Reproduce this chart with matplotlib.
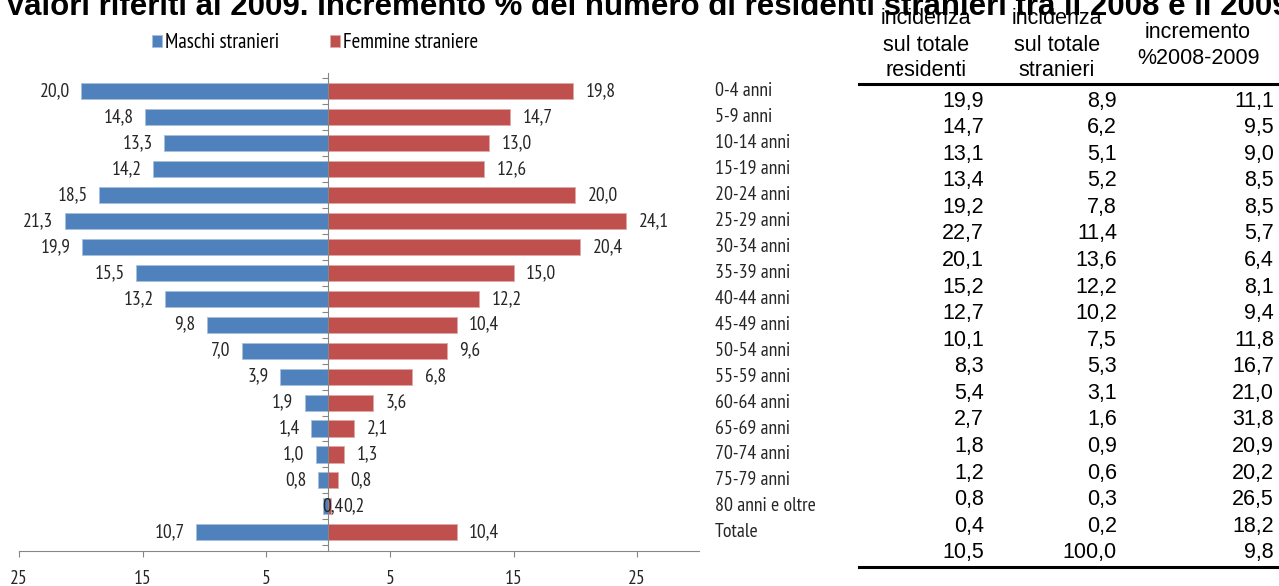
import numpy as np
import matplotlib
matplotlib.use("Agg")
from matplotlib import pyplot as plt
from matplotlib.lines import Line2D

# data
categories = ["0-4 anni", "5-9 anni", "10-14 anni", "15-19 anni", "20-24 anni",
              "25-29 anni", "30-34 anni", "35-39 anni", "40-44 anni", "45-49 anni",
              "50-54 anni", "55-59 anni", "60-64 anni", "65-69 anni", "70-74 anni",
              "75-79 anni", "80 anni e oltre", "Totale"]
maschi = [20.0, 14.8, 13.3, 14.2, 18.5, 21.3, 19.9, 15.5, 13.2, 9.8,
          7.0, 3.9, 1.9, 1.4, 1.0, 0.8, 0.4, 10.7]
femmine = [19.8, 14.7, 13.0, 12.6, 20.0, 24.1, 20.4, 15.0, 12.2, 10.4,
           9.6, 6.8, 3.6, 2.1, 1.3, 0.8, 0.2, 10.4]

inc_residenti = [19.9, 14.7, 13.1, 13.4, 19.2, 22.7, 20.1, 15.2, 12.7, 10.1,
                 8.3, 5.4, 2.7, 1.8, 1.2, 0.8, 0.4, 10.5]
inc_stranieri = [8.9, 6.2, 5.1, 5.2, 7.8, 11.4, 13.6, 12.2, 10.2, 7.5,
                 5.3, 3.1, 1.6, 0.9, 0.6, 0.3, 0.2, 100.0]
incremento = [11.1, 9.5, 9.0, 8.5, 8.5, 5.7, 6.4, 8.1, 9.4, 11.8,
              16.7, 21.0, 31.8, 20.9, 20.2, 26.5, 18.2, 9.8]

xticks = [-25, -15, -5, 5, 15, 25]
title = ("Valori riferiti al 2009. Incremento % del numero di residenti "
         "stranieri tra il 2008 e il 2009")

BLUE = "#4F81BD"
RED = "#C0504D"
GREY = "#868686"
TXT = "#262626"
ARIAL = ["Liberation Sans", "DejaVu Sans"]
NARROW = ["PT Sans Narrow", "Liberation Sans", "DejaVu Sans"]
NSIZE = 14


def fmt(v):
    return f"{v:.1f}".replace(".", ",")


fig = plt.figure(figsize=(12.79, 5.86), dpi=100)
W, H = 1279, 586

# title (cut at the top like in the source)
fig.text(5 / W, 1 - 15 / H, title, fontsize=22.5, fontweight="bold",
         family=ARIAL, ha="left", va="baseline")

# pyramid
ax = fig.add_axes([19 / W, 1 - 551 / H, 680 / W, 478 / H])
y = np.arange(len(categories))
hb = ax.barh(y, [-m for m in maschi], height=0.62, color=BLUE,
             edgecolor="#A7BFDE", linewidth=0.6, label="Maschi stranieri")
hr = ax.barh(y, femmine, height=0.62, color=RED,
             edgecolor="#DFA8A6", linewidth=0.6, label="Femmine straniere")
ax.set_xlim(-25, 30)
ax.set_ylim(17.72, -0.7)

for i, (m, f) in enumerate(zip(maschi, femmine)):
    if m < 0.5:
        # tiny bar: label sits over the axis like in the source
        ax.annotate(fmt(m), (-m, i), xytext=(-1, 0), textcoords="offset points",
                    ha="left", va="center", fontsize=NSIZE, family=NARROW, color=TXT)
    else:
        ax.annotate(fmt(m), (-m, i), xytext=(-8, 0), textcoords="offset points",
                    ha="right", va="center", fontsize=NSIZE, family=NARROW, color=TXT)
    ax.annotate(fmt(f), (f, i), xytext=(9, 0), textcoords="offset points",
                ha="left", va="center", fontsize=NSIZE, family=NARROW, color=TXT)

for i, c in enumerate(categories):
    ax.text(1.0235, i, c, transform=ax.get_yaxis_transform(), ha="left",
            va="center", fontsize=14.3, family=NARROW, color=TXT)

for s in ["top", "right"]:
    ax.spines[s].set_visible(False)
ax.spines["left"].set_position(("data", 0))
ax.spines["left"].set_color(GREY)
ax.spines["bottom"].set_color(GREY)
ax.set_yticks(np.arange(-0.5, len(categories), 1))
ax.set_yticklabels([])
ax.tick_params(axis="y", length=4, color=GREY, direction="out")
ax.set_xticks(xticks)
ax.set_xticklabels([str(abs(t)) for t in xticks], family=NARROW, fontsize=NSIZE,
                   color=TXT)
ax.tick_params(axis="x", length=4, color=GREY, pad=10)

fig.legend(handles=[hb, hr], loc="center", bbox_to_anchor=(315 / W, 1 - 43 / H),
           ncol=2, frameon=False, prop={"family": NARROW, "size": 15},
           handlelength=0.5, handleheight=0.5, handletextpad=0.15,
           columnspacing=2.4, borderpad=0)

# table on the right
tx = fig.add_axes([0, 0, 1, 1], facecolor="none")
tx.set_xlim(0, W)
tx.set_ylim(H, 0)
tx.axis("off")

header = [["incidenza", "sul totale", "residenti"],
          ["incidenza", "sul totale", "stranieri"],
          ["incremento", "%2008-2009"]]
col_centers = [926, 1057, 1198]
header_base = [[24, 51, 76], [24, 51, 76], [38, 64]]
for lines, cx, ys in zip(header, col_centers, header_base):
    for txt, yy in zip(lines, ys):
        tx.text(cx, yy, txt, ha="center", va="baseline", fontsize=15.5, family=ARIAL)

tx.add_line(Line2D([859, W], [84, 84], color="black", lw=2.2))
tx.add_line(Line2D([859, W], [567, 567], color="black", lw=2.2))

col_right = [984, 1117, 1274]
for i in range(len(categories)):
    yy = 106.7 + 26.56 * i
    for xr, col in zip(col_right, [inc_residenti, inc_stranieri, incremento]):
        tx.text(xr, yy, fmt(col[i]), ha="right", va="baseline", fontsize=15.5,
                family=ARIAL)

fig.savefig("out.png", dpi=100)
